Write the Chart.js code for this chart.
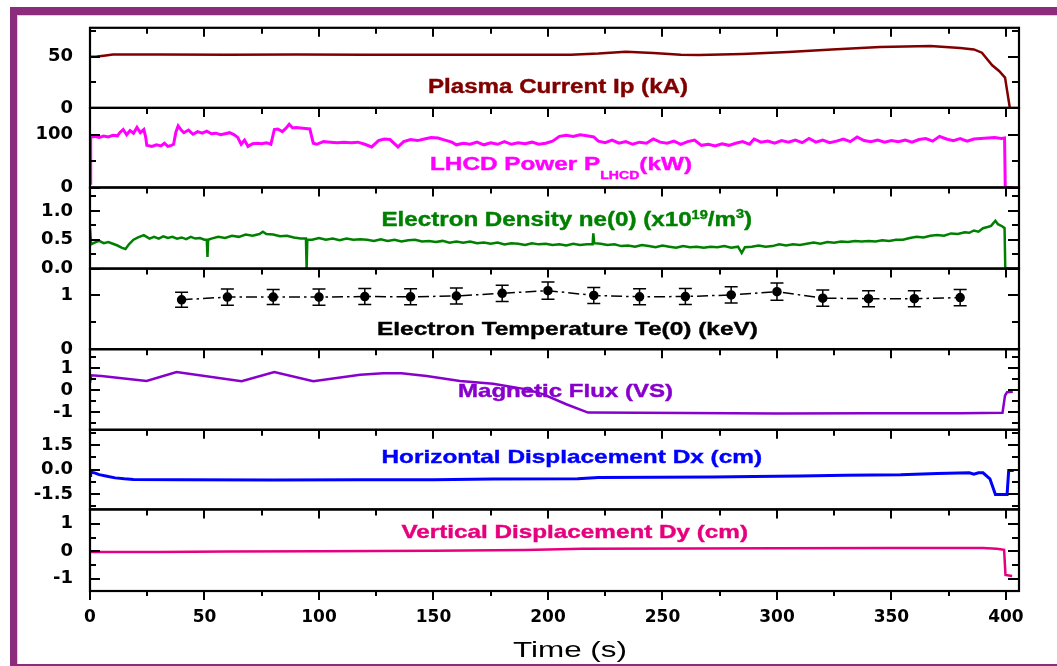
<!DOCTYPE html>
<html>
<head>
<meta charset="utf-8">
<script src="https://cdn.jsdelivr.net/npm/chart.js@4.4.1/dist/chart.umd.min.js"></script>
<style>
  html, body { margin: 0; padding: 0; background: #ffffff; }
  #frame { position: absolute; left: 10px; top: 7px; width: 1047px; height: 659px; box-sizing: border-box;
           border-top: 8px solid #8B2C7C; border-left: 7px solid #8B2C7C; border-bottom: 2px solid #8B2C7C;
           box-shadow: inset 1px 1px 0 #d4d4d4; }
  #wrap { position: absolute; left: 0; top: 0; width: 1057px; height: 666px; }
</style>
</head>
<body>
<div id="frame"></div>
<div id="wrap"><canvas id="c"></canvas></div>
<script>
// ---------------- DATA ----------------
const xTicks = [0, 50, 100, 150, 200, 250, 300, 350, 400];

const plasmaCurrent = [[0,50],[3,50.2],[6,51],[10,52.2],[30,52.2],[60,52],[90,52.2],[120,52],[150,51.8],[180,51.8],[210,52],[222,53],[234,54.9],[246,53.5],[258,52],[266,51.6],[285,52.6],[305,54.5],[324,57.1],[345,59.4],[367,60.4],[380,58.5],[386,57.1],[389.5,53.9],[394,41.6],[397,36],[399.6,29.6],[401.7,0]];

const lhcdPower = [[0,8],[0.3,95],[2,97],[4,95],[6,97.5],[8,96],[10,99],[12,98],[13,104],[14.5,110],[16,100],[17.5,108],[19,103],[20.5,114],[22,104],[23.5,110],[24.3,96],[24.8,80],[27,78],[29,81],[31,79],[32.5,84],[34,78],[35.5,80],[36.5,82],[37.5,105],[38.5,117],[40,108],[41,104],[43,109],[45,101],[47,106],[49,103],[51,107],[53,102],[55,103],[57,100],[59,102],[61,104],[63,100],[64.5,95],[66,82],[67.5,90],[69,78],[71,83],[73,84],[75,83],[77,85],[79,82],[80.5,110],[82,111],[84,106],[85.5,112],[87,120],[88.5,113],[90,114],[92,113],[94,112],[96,111],[97.5,84],[99,82],[102,87],[105,86],[108,85],[111,86],[114,85],[117,86],[120,82],[123,77],[126,89],[128.5,92],[131,91],[134.5,77],[137,87],[140,91],[143,89],[146,92],[149,95],[152,94],[155,90],[158,86],[160,81],[163,84],[166,82],[169,86],[172,81],[175,85],[178,82],[181,87],[184,82],[187,85],[190,83],[193,86],[196,82],[199,84],[202,88],[205,97],[208,99],[211,97],[214,100],[217,98],[220,96],[222,88],[225,85],[228,90],[231,84],[234,87],[237,82],[240,86],[243,84],[246,92],[249,86],[252,84],[255,88],[258,82],[261,87],[264,90],[267,80],[270,82],[273,79],[276,83],[279,80],[282,84],[285,87],[288,82],[290,92],[293,86],[296,88],[299,84],[302,89],[305,86],[308,90],[311,85],[314,93],[317,86],[320,90],[323,85],[326,88],[329,92],[332,87],[335,96],[338,89],[341,87],[344,90],[347,86],[350,89],[353,87],[356,90],[359,86],[362,91],[365,93],[368,88],[371,97],[374,92],[377,89],[380,93],[383,88],[386,92],[389,93],[392,94],[395,95],[398,93],[399.4,94],[399.7,0],[403,0]];

const electronDensity = [[0,0.7],[0.5,0.42],[2,0.45],[4,0.48],[6,0.44],[8,0.46],[10,0.43],[12,0.4],[14,0.36],[15.5,0.34],[17,0.42],[19,0.5],[21,0.54],[23.5,0.58],[26,0.52],[28,0.55],[30,0.52],[32,0.56],[34,0.53],[36,0.55],[38,0.52],[40,0.54],[42,0.51],[44,0.55],[46,0.52],[48,0.53],[50,0.5],[51,0.5],[51.3,0.2],[51.6,0.5],[53,0.52],[56,0.55],[59,0.53],[62,0.57],[65,0.55],[68,0.59],[71,0.57],[74,0.6],[75.5,0.64],[77,0.6],[80,0.59],[83,0.56],[86,0.57],[89,0.54],[92,0.52],[94.3,0.52],[94.6,0],[94.9,0.5],[97,0.5],[100,0.53],[103,0.5],[106,0.52],[109,0.49],[112,0.52],[115,0.5],[118,0.51],[121,0.5],[124,0.48],[127,0.51],[130,0.48],[133,0.5],[136,0.47],[139,0.49],[142,0.5],[145,0.47],[148,0.48],[151,0.46],[154,0.48],[157,0.45],[160,0.47],[163,0.45],[166,0.47],[169,0.44],[172,0.45],[175,0.43],[178,0.45],[181,0.42],[184,0.44],[187,0.43],[190,0.41],[193,0.44],[196,0.42],[199,0.43],[202,0.41],[205,0.42],[208,0.4],[211,0.43],[214,0.41],[217,0.42],[219.5,0.42],[219.8,0.61],[220.2,0.44],[223,0.43],[226,0.41],[229,0.42],[232,0.39],[235,0.4],[238,0.38],[241,0.41],[244,0.39],[247,0.37],[250,0.4],[253,0.38],[256,0.36],[259,0.39],[262,0.37],[265,0.38],[268,0.36],[271,0.38],[274,0.37],[277,0.39],[280,0.36],[283,0.38],[284.6,0.27],[286,0.37],[289,0.38],[292,0.4],[295,0.38],[298,0.39],[301,0.42],[304,0.4],[307,0.42],[310,0.41],[313,0.43],[316,0.45],[319,0.43],[322,0.46],[325,0.45],[328,0.47],[331,0.46],[334,0.48],[337,0.47],[340,0.48],[343,0.47],[346,0.49],[349,0.48],[352,0.5],[355,0.5],[358,0.53],[361,0.55],[364,0.54],[367,0.57],[370,0.58],[373,0.57],[376,0.61],[379,0.6],[382,0.63],[384,0.62],[386,0.66],[388,0.64],[390,0.7],[392,0.72],[393.5,0.74],[395.4,0.83],[396.5,0.77],[398.5,0.73],[399.4,0.7],[399.7,0],[405.7,0]];

const teTime   = [40, 60, 80, 100, 120, 140, 160, 180, 200, 220, 240, 260, 280, 300, 320, 340, 360, 380];
const teValue  = [0.92, 0.97, 0.97, 0.97, 0.98, 0.975, 0.99, 1.04, 1.09, 1.0, 0.975, 0.98, 1.01, 1.07, 0.95, 0.94, 0.94, 0.96];
const teError  = [0.14, 0.15, 0.14, 0.15, 0.15, 0.15, 0.15, 0.15, 0.16, 0.15, 0.15, 0.15, 0.15, 0.16, 0.15, 0.15, 0.15, 0.15];

const magneticFlux = [[0,0.33],[0.5,0.67],[5,0.64],[24.7,0.41],[37.8,0.82],[66.2,0.4],[80.5,0.82],[97.5,0.4],[118,0.7],[128,0.76],[136,0.76],[147,0.64],[161.6,0.41],[176,0.29],[190.7,0.03],[198,-0.2],[208,-0.65],[217.5,-1.03],[260,-1.05],[300,-1.07],[340,-1.06],[380,-1.06],[398.5,-1.04],[399.6,-0.25],[400.5,-0.1],[403,-0.08]];

const horizDisp = [[0,-0.37],[0.3,-0.16],[2,-0.2],[4,-0.31],[8,-0.43],[11,-0.51],[15,-0.57],[19,-0.61],[40,-0.63],[80,-0.64],[118,-0.63],[150,-0.63],[176,-0.58],[213,-0.56],[222,-0.48],[272,-0.46],[290,-0.43],[310,-0.4],[330,-0.34],[354,-0.31],[370,-0.24],[384,-0.2],[386,-0.28],[388,-0.2],[390,-0.2],[393,-0.57],[395.4,-1.53],[400.5,-1.53],[401.2,-0.06],[403.4,-0.06]];

const vertDisp = [[0,-0.03],[30,-0.03],[60,-0.01],[100,0.0],[150,0.02],[190,0.04],[215,0.09],[260,0.1],[300,0.11],[350,0.12],[390,0.12],[396,0.09],[399.2,0.05],[399.8,-0.87],[402.7,-0.91]];

// y tick labels per panel (labelled values) and minor tick values
const ipTicks   = [0, 50],            ipLabels   = ['0', '50'],           ipMinor   = [25, 75];
const lhTicks   = [0, 100],           lhLabels   = ['0', '100'],          lhMinor   = [50, 150];
const neTicks   = [0, 0.5, 1.0],      neLabels   = ['0.0', '0.5', '1.0'], neMinor   = [0.25, 0.75, 1.25];
const teTicks   = [0, 1],             teLabels   = ['0', '1'],            teMinor   = [0.5, 1.5];
const fxTicks   = [-1, 0, 1],         fxLabels   = ['-1', '0', '1'],      fxMinor   = [-1.5, -0.5, 0.5, 1.5];
const dxTicks   = [-1.5, 0, 1.5],     dxLabels   = ['-1.5', '0.0', '1.5'],dxMinor   = [-2.25, -0.75, 0.75, 2.25];
const dyTicks   = [-1, 0, 1],         dyLabels   = ['-1', '0', '1'],      dyMinor   = [-0.5, 0.5];

// ---------------- STYLE / LAYOUT ----------------
const panelDefs = [
  { id: 'y1', min: 0,      max: 78.2,  h: 80.5, ticks: ipTicks, labels: ipLabels, minor: ipMinor },
  { id: 'y2', min: 0,      max: 151,   h: 80,   ticks: lhTicks, labels: lhLabels, minor: lhMinor },
  { id: 'y3', min: 0,      max: 1.405, h: 81.5, ticks: neTicks, labels: neLabels, minor: neMinor },
  { id: 'y4', min: 0,      max: 1.5,   h: 81,   ticks: teTicks, labels: teLabels, minor: teMinor },
  { id: 'y5', min: -1.818, max: 1.864, h: 81,   ticks: fxTicks, labels: fxLabels, minor: fxMinor },
  { id: 'y6', min: -2.45,  max: 2.45,  h: 80,   ticks: dxTicks, labels: dxLabels, minor: dxMinor },
  { id: 'y7', min: -1.455, max: 1.527, h: 82,   ticks: dyTicks, labels: dyLabels, minor: dyMinor }
];

const textItems = [
  { parts: [['Plasma Current Ip (kA)', 20, 0]], x0: 428, x1: 688, base: 93, color: '#800000', weight: 'bold' },
  { parts: [['LHCD Power P', 19, 0], ['LHCD', 11, 8.5], ['(kW)', 19, 0]], x0: 430, x1: 692, base: 170, color: '#FF00FF', weight: 'bold' },
  { parts: [['Electron Density ne(0) (x10', 20, 0], ['19', 12, -7], ['/m', 20, 0], ['3', 12, -8], [')', 20, 0]], x0: 381.5, x1: 752, base: 226, color: '#008000', weight: 'bold' },
  { parts: [['Electron Temperature Te(0) (keV)', 19, 0]], x0: 377, x1: 758, base: 335, color: '#000000', weight: 'bold' },
  { parts: [['Magnetic Flux (VS)', 19, 0]], x0: 458, x1: 673, base: 396.5, color: '#8800CC', weight: 'bold' },
  { parts: [['Horizontal Displacement Dx (cm)', 19, 0]], x0: 381.5, x1: 762, base: 462.5, color: '#0000FF', weight: 'bold' },
  { parts: [['Vertical Displacement Dy (cm)', 19, 0]], x0: 401.5, x1: 748, base: 537.5, color: '#E6007E', weight: 'bold' },
  { parts: [['Time (s)', 22, 0]], x0: 513, x1: 627, base: 657, color: '#000000', weight: 'normal' }
];

const pts = arr => arr.map(p => ({ x: p[0], y: p[1] }));

function drawRich(ctx, item) {
  let total = 0;
  const widths = [];
  for (const [txt, size] of item.parts) {
    ctx.font = `${item.weight} ${size}px "Liberation Sans", Arial, sans-serif`;
    const w = ctx.measureText(txt).width;
    widths.push(w); total += w;
  }
  const sx = (item.x1 - item.x0) / total;
  ctx.save();
  ctx.translate(item.x0, item.base);
  ctx.scale(sx, 1);
  ctx.fillStyle = item.color;
  ctx.strokeStyle = item.color;
  ctx.lineWidth = item.weight === 'bold' ? 0.4 : 0;
  ctx.textBaseline = 'alphabetic';
  ctx.textAlign = 'left';
  let x = 0;
  item.parts.forEach(([txt, size, dy], i) => {
    ctx.font = `${item.weight} ${size}px "Liberation Sans", Arial, sans-serif`;
    ctx.fillText(txt, x, dy);
    if (item.weight === 'bold') ctx.strokeText(txt, x, dy);
    x += widths[i];
  });
  ctx.restore();
}

const panelPlugin = {
  id: 'panelPlugin',
  beforeDatasetsDraw(chart) {
    const ctx = chart.ctx;
    textItems.forEach(it => drawRich(ctx, it));
  },
  afterDatasetsDraw(chart) {
    const ctx = chart.ctx;
    const xs = chart.scales.x;
    const yt = chart.scales.y4;
    // error bars
    ctx.save();
    ctx.strokeStyle = '#000'; ctx.lineWidth = 1.5;
    teTime.forEach((t, i) => {
      const px = xs.getPixelForValue(t);
      const p1 = yt.getPixelForValue(teValue[i] + teError[i]);
      const p2 = yt.getPixelForValue(teValue[i] - teError[i]);
      ctx.beginPath();
      ctx.moveTo(px, p1); ctx.lineTo(px, p2);
      ctx.moveTo(px - 6.5, p1); ctx.lineTo(px + 6.5, p1);
      ctx.moveTo(px - 6.5, p2); ctx.lineTo(px + 6.5, p2);
      ctx.stroke();
    });
    ctx.restore();
  },
  afterDraw(chart) {
    const ctx = chart.ctx;
    const xs = chart.scales.x;
    ctx.save();
    ctx.strokeStyle = '#000';
    panelDefs.forEach((pd, idx) => {
      const s = chart.scales[pd.id];
      ctx.lineWidth = 2;
      ctx.beginPath();
      for (let t = 0; t <= 400; t += 25) {
        const px = Math.round(xs.getPixelForValue(t));
        const len = (t % 50 === 0) ? 9 : 6;
        ctx.moveTo(px, s.top); ctx.lineTo(px, s.top + len);
        if (idx === panelDefs.length - 1) {
          const blen = (t % 50 === 0) ? 9 : 5;
          ctx.moveTo(px, s.bottom); ctx.lineTo(px, s.bottom + blen);
        }
      }
      pd.ticks.forEach(v => {
        const py = Math.round(s.getPixelForValue(v));
        ctx.moveTo(xs.left, py); ctx.lineTo(xs.left + 10, py);
        ctx.moveTo(xs.right, py); ctx.lineTo(xs.right - 11, py);
      });
      pd.minor.forEach(v => {
        const py = Math.round(s.getPixelForValue(v));
        ctx.moveTo(xs.left, py); ctx.lineTo(xs.left + 6, py);
        ctx.moveTo(xs.right, py); ctx.lineTo(xs.right - 7, py);
      });
      ctx.stroke();
      ctx.lineWidth = 2.2;
      ctx.strokeRect(xs.left, s.top, xs.right - xs.left, s.bottom - s.top);
    });
    ctx.restore();
  }
};

const scales = {
  x: {
    type: 'linear', min: 0, max: 405.7, position: 'bottom',
    grid: { display: false, drawTicks: false }, border: { display: false },
    afterBuildTicks: sc => { sc.ticks = xTicks.map(v => ({ value: v })); },
    afterFit: sc => { sc.height = 75; },
    ticks: { autoSkip: false, maxRotation: 0, padding: 16, color: '#000',
             font: { family: '"DejaVu Sans"', size: 17, weight: 'bold' },
             callback: v => String(v) }
  }
};
panelDefs.forEach((pd, i) => {
  scales[pd.id] = {
    type: 'linear', position: 'left', stack: 'panels', stackWeight: pd.h, weight: panelDefs.length - i,
    min: pd.min, max: pd.max,
    grid: { display: false, drawTicks: false }, border: { display: false },
    afterBuildTicks: sc => { sc.ticks = pd.ticks.map(v => ({ value: v })); },
    afterFit: sc => { sc.width = 90; },
    ticks: { autoSkip: false, padding: 17, color: '#000',
             font: { family: '"DejaVu Sans"', size: 18, weight: 'bold' },
             callback: (v, idx) => pd.labels[idx] }
  };
});

const lineDs = (data, axis, color, width) => ({
  data: pts(data), yAxisID: axis, borderColor: color, borderWidth: width,
  pointRadius: 0, tension: 0, fill: false
});

new Chart(document.getElementById('c'), {
  type: 'line',
  data: {
    datasets: [
      lineDs(plasmaCurrent, 'y1', '#800000', 2.5),
      lineDs(lhcdPower, 'y2', '#FF00FF', 3),
      lineDs(electronDensity, 'y3', '#008000', 2.5),
      {
        data: teTime.map((t, i) => ({ x: t, y: teValue[i] })), yAxisID: 'y4',
        borderColor: '#000', borderWidth: 1.5, borderDash: [11, 4, 2.5, 4],
        pointRadius: 4, pointBackgroundColor: '#000', pointBorderColor: '#000', tension: 0, fill: false
      },
      lineDs(magneticFlux, 'y5', '#8800CC', 2.5),
      lineDs(horizDisp, 'y6', '#0000FF', 3),
      lineDs(vertDisp, 'y7', '#E6007E', 2.5)
    ]
  },
  options: {
    responsive: true, maintainAspectRatio: false, animation: false,
    layout: { padding: { left: 0, top: 25, right: 38, bottom: 0 } },
    plugins: { legend: { display: false }, tooltip: { enabled: false } },
    scales
  },
  plugins: [panelPlugin]
});
</script>
</body>
</html>
